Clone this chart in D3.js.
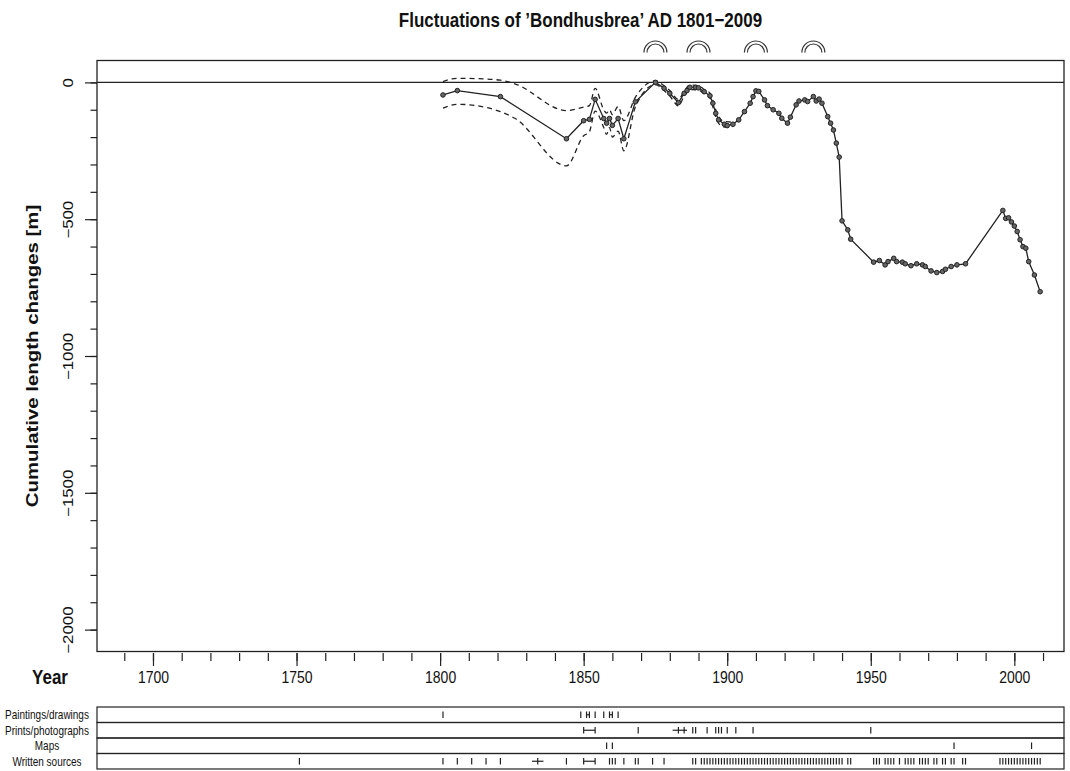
<!DOCTYPE html>
<html>
<head>
<meta charset="utf-8">
<script src="https://cdn.jsdelivr.net/npm/d3@7"></script>
<style>
  body { margin: 0; background: #fff; }
  text { font-family: "Liberation Sans", Arial, Helvetica, sans-serif; fill: #111; }
</style>
</head>
<body>
<div id="chart"></div>
<script>
// cumulative length change
const lengthYears = [1801, 1806, 1821, 1844, 1850, 1852, 1854, 1857, 1858, 1859, 1860, 1862, 1864, 1868,
  1875, 1878, 1880, 1883, 1885, 1886, 1887, 1889, 1890, 1892, 1894, 1895, 1896, 1897, 1899, 1900,
  1902, 1904, 1906, 1908, 1909, 1910, 1911, 1913, 1914, 1916, 1918, 1919, 1921, 1922, 1924, 1925,
  1927, 1928, 1930, 1931, 1932, 1933, 1935, 1936, 1937, 1938, 1939, 1940, 1942, 1943,
  1951, 1953, 1955, 1956, 1958, 1959, 1961, 1962, 1964, 1966, 1968, 1969, 1971, 1973, 1975, 1976,
  1978, 1980, 1983, 1996, 1997, 1998, 1999, 2000, 2001, 2002, 2003, 2004, 2005, 2007, 2009];
const lengthValues = [-46, -30, -52, -206, -140, -135, -62, -132, -149, -132, -157, -132, -206, -71,
  0, -21, -40, -74, -40, -30, -18, -18, -20, -34, -49, -76, -113, -137, -153, -158,
  -153, -137, -107, -76, -52, -31, -33, -64, -85, -100, -113, -131, -149, -127, -82, -68,
  -64, -70, -52, -68, -61, -76, -125, -149, -174, -222, -273, -506, -539, -573,
  -657, -651, -667, -655, -643, -655, -657, -663, -670, -663, -667, -673, -689, -695, -691, -683,
  -673, -667, -663, -468, -497, -495, -510, -525, -545, -575, -600, -606, -655, -704, -765];

// uncertainty envelope (dashed)
const bandYears = [1801, 1806, 1812, 1821, 1826, 1844, 1850, 1852, 1854, 1857, 1858, 1859, 1860, 1862,
  1864, 1868, 1875, 1878, 1880, 1883, 1885, 1887, 1890, 1892, 1894, 1896, 1897, 1899, 1902];
const bandUpper = [3, 15, 14, 8, -5, -103, -90, -85, -22, -100, -112, -100, -118, -88,
  -140, -55, 6, -12, -30, -62, -32, -10, -12, -26, -40, -100, -125, -143, -145];
const bandLower = [-94, -80, -84, -107, -131, -305, -195, -180, -105, -165, -190, -165, -200, -178,
  -250, -90, -8, -30, -50, -86, -50, -26, -28, -42, -58, -126, -150, -163, -161];

// moraine symbols above the plot
const moraineYears = [1875, 1890, 1910, 1930];

// source panels
const sourceLabels = ["Paintings/drawings", "Prints/photographs", "Maps", "Written sources"];
const paintingYears = [1801, 1849, 1851, 1852, 1854, 1857, 1859, 1860, 1862];
const paintingRanges = [[1851, 1852], [1859, 1860]];
const printYears = [1850, 1854, 1869, 1883, 1885, 1888, 1889, 1893, 1896, 1897, 1898, 1900, 1903, 1909, 1950];
const printRanges = [[1850, 1854], [1881, 1886]];
const mapYears = [1858, 1860, 1979, 2006];
const mapRanges = [];
const writtenYears = [1751, 1801, 1806, 1811, 1816, 1821, 1834, 1844, 1850, 1854, 1859, 1860, 1861,
  1864, 1868, 1869, 1874, 1878, 1888, 1889,
  1891, 1892, 1893, 1894, 1895, 1896, 1897, 1898, 1899, 1900, 1901, 1902, 1903, 1904, 1905, 1906,
  1907, 1908, 1909, 1910, 1911, 1912, 1913, 1914, 1915, 1916, 1917, 1918, 1919, 1920, 1921, 1922,
  1923, 1924, 1925, 1926, 1927, 1928, 1929, 1930, 1931, 1932, 1933, 1934, 1935, 1936, 1937, 1938,
  1939, 1940, 1942, 1943,
  1951, 1952, 1953, 1955, 1956, 1957, 1958, 1960, 1962, 1963, 1964, 1965, 1967, 1968, 1969, 1970,
  1972, 1973, 1975, 1976, 1978, 1979, 1982, 1983,
  1995, 1996, 1997, 1998, 1999, 2000, 2001, 2002, 2003, 2004, 2005, 2006, 2007, 2008, 2009];
const writtenRanges = [[1832, 1836], [1850, 1854]];

const xTickLabels = [1700, 1750, 1800, 1850, 1900, 1950, 2000];
const yTickLabels = [0, -500, -1000, -1500, -2000];

const width = 1070, height = 771;
const plot = { left: 97, right: 1064, top: 60.5, bottom: 651.5 };
const panel = { top: 707, bottom: 769 };
const stretch = 1.2; // the picture is a bit taller than wide, glyphs too

const x = d3.scaleLinear().domain([1680.5, 2017.3]).range([plot.left, plot.right]);
const y = d3.scaleLinear().domain([80, -2080]).range([plot.top, plot.bottom]);

const svg = d3.select("#chart")
  .append("svg")
  .attr("width", width)
  .attr("height", height);

// title
svg.append("text")
  .attr("transform", `translate(${(plot.left + plot.right) / 2},20) scale(1,${stretch})`)
  .attr("text-anchor", "middle")
  .attr("dominant-baseline", "central")
  .style("font-size", "17px")
  .style("font-weight", "bold")
  .text("Fluctuations of \u2019Bondhusbrea\u2019 AD 1801\u22122009");

// y axis
const yMinor = d3.range(-2000, 1, 100);
const yMinorAxis = d3.axisLeft(y).tickValues(yMinor).tickSize(6.5).tickFormat("");
const yMajorAxis = d3.axisLeft(y).tickValues(yTickLabels).tickSize(12)
  .tickFormat(d => d === 0 ? "0" : "\u2212" + Math.abs(d));

const gyMinor = svg.append("g").attr("transform", `translate(${plot.left},0)`).call(yMinorAxis);
const gy = svg.append("g").attr("transform", `translate(${plot.left},0)`).call(yMajorAxis);
[gyMinor, gy].forEach(g => {
  g.select(".domain").remove();
  g.selectAll("line").attr("stroke", "#222").attr("stroke-width", 1.2);
});
gy.selectAll("text")
  .attr("x", null).attr("dy", null)
  .attr("text-anchor", "middle")
  .attr("dominant-baseline", "central")
  .attr("transform", `translate(${68 - plot.left},0) rotate(-90) scale(${stretch},1)`)
  .style("font-size", "14px")
  .style("font-family", null)
  .attr("fill", "#111");

svg.append("text")
  .attr("transform", `translate(32,${(plot.top + plot.bottom) / 2}) rotate(-90) scale(${stretch},1)`)
  .attr("text-anchor", "middle")
  .attr("dominant-baseline", "central")
  .style("font-size", "17px")
  .style("font-weight", "bold")
  .text("Cumulative length changes [m]");

// x axis
const xMinor = d3.range(1690, 2011, 10);
const xMinorAxis = d3.axisBottom(x).tickValues(xMinor).tickSize(8).tickFormat("");
const xMajorAxis = d3.axisBottom(x).tickValues(xTickLabels).tickSize(13).tickFormat(d3.format("d"));
const gxMinor = svg.append("g").attr("transform", `translate(0,${plot.bottom + 1.5})`).call(xMinorAxis);
const gx = svg.append("g").attr("transform", `translate(0,${plot.bottom + 1.5})`).call(xMajorAxis);
[gxMinor, gx].forEach(g => {
  g.select(".domain").remove();
  g.selectAll("line").attr("stroke", "#222").attr("stroke-width", 1.2);
});
gx.selectAll("text")
  .attr("y", null).attr("dy", null)
  .attr("dominant-baseline", "central")
  .attr("transform", `translate(0,${677 - plot.bottom - 1.5}) scale(1,${stretch})`)
  .style("font-size", "14px")
  .style("font-family", null)
  .attr("fill", "#111");

svg.append("text")
  .attr("transform", `translate(50,677) scale(1,${stretch})`)
  .attr("text-anchor", "middle")
  .attr("dominant-baseline", "central")
  .style("font-size", "17px")
  .style("font-weight", "bold")
  .text("Year");

// plot box
svg.append("rect")
  .attr("x", plot.left).attr("y", plot.top)
  .attr("width", plot.right - plot.left).attr("height", plot.bottom - plot.top)
  .attr("fill", "none").attr("stroke", "#222").attr("stroke-width", 1.3);

// zero line
svg.append("line")
  .attr("x1", plot.left).attr("x2", plot.right)
  .attr("y1", y(0)).attr("y2", y(0))
  .attr("stroke", "#222").attr("stroke-width", 1.3);

// moraine arcs
const arcs = svg.append("g");
moraineYears.forEach(yr => {
  [11.5, 8.5].forEach(r => {
    const p = d3.path();
    p.moveTo(x(yr) - r, 52.5);
    p.arc(x(yr), 52.5, r, Math.PI, 2 * Math.PI);
    arcs.append("path")
      .attr("d", p.toString())
      .attr("fill", "none")
      .attr("stroke", "#333")
      .attr("stroke-width", 1.2);
  });
});

// uncertainty band
const bandLine = d3.line().curve(d3.curveMonotoneX).x(d => x(d[0])).y(d => y(d[1]));
[bandUpper, bandLower].forEach(vals => {
  svg.append("path")
    .attr("d", bandLine(bandYears.map((yr, i) => [yr, vals[i]])))
    .attr("fill", "none")
    .attr("stroke", "#222")
    .attr("stroke-width", 1.3)
    .attr("stroke-dasharray", "5,4");
});

// main series
const series = lengthYears.map((yr, i) => [yr, lengthValues[i]]);
svg.append("path")
  .attr("d", d3.line().x(d => x(d[0])).y(d => y(d[1]))(series))
  .attr("fill", "none")
  .attr("stroke", "#222")
  .attr("stroke-width", 1.3);

svg.append("g").selectAll("circle")
  .data(series)
  .enter()
  .append("circle")
  .attr("cx", d => x(d[0]))
  .attr("cy", d => y(d[1]))
  .attr("r", 2.3)
  .attr("fill", "#666")
  .attr("stroke", "#222")
  .attr("stroke-width", 1);

// source panels
const rows = d3.scaleBand().domain(sourceLabels).range([panel.top, panel.bottom]);
const sourceYears = [paintingYears, printYears, mapYears, writtenYears];
const sourceRanges = [paintingRanges, printRanges, mapRanges, writtenRanges];

sourceLabels.forEach((lab, i) => {
  const top = rows(lab), mid = top + rows.bandwidth() / 2;
  const g = svg.append("g");
  g.append("rect")
    .attr("x", plot.left).attr("y", top)
    .attr("width", plot.right - plot.left).attr("height", rows.bandwidth())
    .attr("fill", "none").attr("stroke", "#222").attr("stroke-width", 1.2);
  g.append("text")
    .attr("transform", `translate(47,${mid}) scale(1,${stretch})`)
    .attr("text-anchor", "middle")
    .attr("dominant-baseline", "central")
    .style("font-size", "10px")
    .text(lab);
  g.selectAll(".rng")
    .data(sourceRanges[i])
    .enter()
    .append("line")
    .attr("x1", d => x(d[0])).attr("x2", d => x(d[1]))
    .attr("y1", mid).attr("y2", mid)
    .attr("stroke", "#222").attr("stroke-width", 1.2);
  g.selectAll(".tk")
    .data(sourceYears[i])
    .enter()
    .append("line")
    .attr("x1", d => x(d)).attr("x2", d => x(d))
    .attr("y1", mid - 3.3).attr("y2", mid + 3.3)
    .attr("stroke", "#222").attr("stroke-width", 1.2);
});
</script>
</body>
</html>
